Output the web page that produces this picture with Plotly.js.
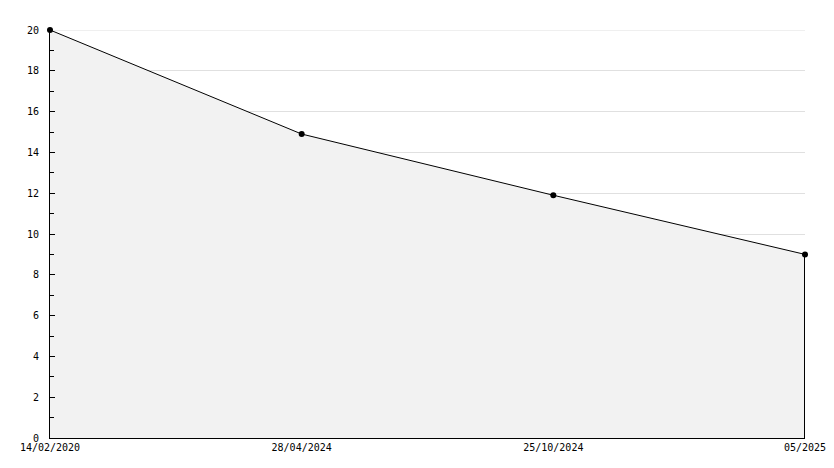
<!DOCTYPE html>
<html>
<head>
<meta charset="utf-8">
<script src="https://cdn.plot.ly/plotly-3.0.1.min.js"></script>
<style>html,body{margin:0;padding:0;background:#fff;}#chart{width:834px;height:468px;}</style>
</head>
<body>
<div id="chart"></div>
<script>
const dateLabels = ["14/02/2020", "28/04/2024", "25/10/2024", "05/2025"];
const values = [20, 14.9, 11.9, 9.0];
const yTicks = [0, 2, 4, 6, 8, 10, 12, 14, 16, 18, 20];

const idx = dateLabels.map((_, i) => i);
const lastI = idx[idx.length - 1];
const lastV = values[values.length - 1];
const yMax = yTicks[yTicks.length - 1];

const traces = [
  {
    x: idx, y: values, type: "scatter", mode: "lines",
    fill: "tozeroy", fillcolor: "#f2f2f2",
    line: {color: "#000", width: 1},
    hoverinfo: "skip"
  },
  {
    x: [lastI, lastI], y: [0, lastV], type: "scatter", mode: "lines",
    line: {color: "#000", width: 2}, hoverinfo: "skip"
  },
  {
    x: idx, y: values, type: "scatter", mode: "markers",
    marker: {color: "#000", size: 6, symbol: "circle"},
    hoverinfo: "skip", cliponaxis: false
  }
];

const layout = {
  width: 834, height: 468,
  margin: {l: 50, r: 29, t: 30, b: 30},
  paper_bgcolor: "#fff", plot_bgcolor: "#fff",
  showlegend: false,
  font: {family: "DejaVu Sans Mono, monospace", size: 10, color: "#000"},
  xaxis: {
    range: [0, lastI], tickvals: idx, ticktext: dateLabels,
    showgrid: false, zeroline: false, showline: true, linecolor: "#000", linewidth: 1,
    ticks: "", fixedrange: true
  },
  yaxis: {
    range: [0, yMax], tickvals: yTicks, ticktext: yTicks.map(String),
    showgrid: true, gridcolor: "#e0e0e0", gridwidth: 1,
    zeroline: false, showline: true, linecolor: "#000", linewidth: 1,
    ticks: "inside", ticklen: 5, tickcolor: "#000", tickwidth: 1,
    ticklabelstandoff: 8,
    minor: {ticks: "inside", ticklen: 4, dtick: 1, tick0: 0, tickcolor: "#000", showgrid: false},
    fixedrange: true
  },
  shapes: [
    {type: "line", xref: "paper", yref: "y", x0: 0, x1: 1, y0: yMax, y1: yMax,
     line: {color: "#e0e0e0", width: 1}, layer: "below"}
  ]
};

Plotly.newPlot("chart", traces, layout, {displayModeBar: false, staticPlot: true});
</script>
</body>
</html>
